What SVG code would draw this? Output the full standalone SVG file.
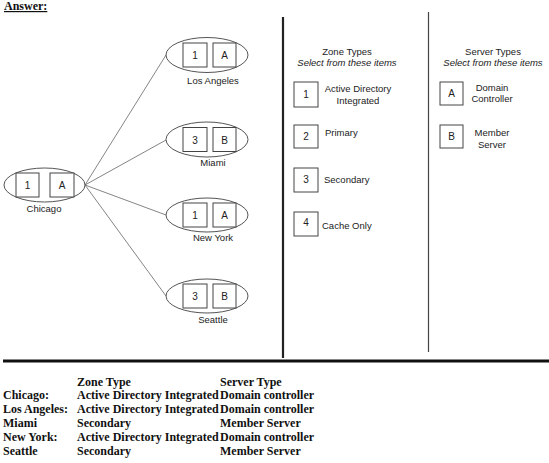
<svg xmlns="http://www.w3.org/2000/svg" width="549" height="463" viewBox="0 0 549 463">
<style>
.bg{fill:#fff}
.ell{fill:none;stroke:#555;stroke-width:1}
.box{fill:#fff;stroke:#444;stroke-width:1}
.bt{font-family:"Liberation Sans",Arial,sans-serif;font-size:10px;fill:#222;text-anchor:middle}
.lbl{font-family:"Liberation Sans",Arial,sans-serif;font-size:9.5px;fill:#222;text-anchor:middle}
.lt{font-family:"Liberation Sans",Arial,sans-serif;font-size:9.5px;fill:#222}
.it{font-family:"Liberation Sans",Arial,sans-serif;font-size:9.5px;font-style:italic;fill:#222;text-anchor:middle}
.conn line{stroke:#666;stroke-width:0.8}
.tb{font-family:"Liberation Serif","Times New Roman",serif;font-size:12px;font-weight:bold;fill:#111}
</style>
<rect class="bg" x="0" y="0" width="549" height="463"/>
<text x="4" y="10" font-family="Liberation Serif, Times New Roman, serif" font-size="12" font-weight="bold" fill="#111" text-decoration="underline">Answer:</text>

<g id="connectors" class="conn">
<line x1="85" y1="185" x2="166" y2="55"/>
<line x1="85" y1="185" x2="166" y2="140"/>
<line x1="85" y1="185" x2="166" y2="215"/>
<line x1="85" y1="185" x2="166" y2="296"/>
</g>

<g id="chicago">
<ellipse class="ell" cx="44.5" cy="185" rx="40.5" ry="17"/>
<rect class="box" x="16" y="173" width="23" height="24"/>
<text class="bt" x="27.5" y="189">1</text>
<rect class="box" x="50" y="173" width="24" height="24"/>
<text class="bt" x="62" y="189">A</text>
<text class="lbl" x="44" y="212">Chicago</text>
</g>

<g id="los-angeles">
<ellipse class="ell" cx="207" cy="55" rx="41" ry="17.5"/>
<rect class="box" x="183" y="43" width="24" height="24"/>
<text class="bt" x="195" y="59">1</text>
<rect class="box" x="213" y="43" width="23" height="24"/>
<text class="bt" x="224.5" y="59">A</text>
<text class="lbl" x="213" y="84">Los Angeles</text>
</g>

<g id="miami">
<ellipse class="ell" cx="207" cy="139.5" rx="41" ry="17.5"/>
<rect class="box" x="183" y="127.5" width="24" height="24"/>
<text class="bt" x="195" y="143.5">3</text>
<rect class="box" x="213" y="127.5" width="23" height="24"/>
<text class="bt" x="224.5" y="143.5">B</text>
<text class="lbl" x="213" y="166">Miami</text>
</g>

<g id="new-york">
<ellipse class="ell" cx="207" cy="215" rx="41" ry="17"/>
<rect class="box" x="183" y="203" width="24" height="24"/>
<text class="bt" x="195" y="219">1</text>
<rect class="box" x="213" y="203" width="23" height="24"/>
<text class="bt" x="224.5" y="219">A</text>
<text class="lbl" x="213" y="241">New York</text>
</g>

<g id="seattle">
<ellipse class="ell" cx="207" cy="296" rx="41" ry="17"/>
<rect class="box" x="183" y="284" width="24" height="24"/>
<text class="bt" x="195" y="300">3</text>
<rect class="box" x="213" y="284" width="23" height="24"/>
<text class="bt" x="224.5" y="300">B</text>
<text class="lbl" x="213" y="323">Seattle</text>
</g>

<g id="dividers">
<line x1="283" y1="17" x2="283" y2="358" stroke="#222" stroke-width="2.2"/>
<line x1="428.5" y1="12" x2="428.5" y2="352" stroke="#444" stroke-width="1.2"/>
<line x1="3" y1="361" x2="549" y2="361" stroke="#111" stroke-width="3"/>
</g>

<g id="zone-types">
<text class="lbl" x="347" y="55">Zone Types</text>
<text class="it" x="347" y="65.5">Select from these items</text>
<rect class="box" x="294" y="82" width="24" height="25"/>
<text class="bt" x="306" y="98">1</text>
<text class="lbl" x="358" y="92">Active Directory</text>
<text class="lbl" x="358" y="103.5">Integrated</text>
<rect class="box" x="294" y="125" width="24" height="23"/>
<text class="bt" x="306" y="140">2</text>
<text class="lt" x="325" y="136">Primary</text>
<rect class="box" x="294" y="168" width="24" height="24"/>
<text class="bt" x="306" y="183">3</text>
<text class="lt" x="324" y="182.5">Secondary</text>
<rect class="box" x="294" y="212" width="24" height="24"/>
<text class="bt" x="306" y="226">4</text>
<text class="lt" x="322" y="228.5">Cache Only</text>
</g>

<g id="server-types">
<text class="lbl" x="493" y="55">Server Types</text>
<text class="it" x="493" y="65.5">Select from these items</text>
<rect class="box" x="440" y="82" width="23" height="23"/>
<text class="bt" x="451.5" y="97">A</text>
<text class="lbl" x="492" y="91">Domain</text>
<text class="lbl" x="492" y="101.5">Controller</text>
<rect class="box" x="440" y="125" width="23" height="23"/>
<text class="bt" x="451.5" y="140">B</text>
<text class="lbl" x="492" y="136">Member</text>
<text class="lbl" x="492" y="148">Server</text>
</g>

<g id="answer-table">
<text class="tb" x="77" y="386">Zone Type</text>
<text class="tb" x="220" y="386">Server Type</text>
<text class="tb" x="3" y="399">Chicago:</text>
<text class="tb" x="77" y="399">Active Directory Integrated</text>
<text class="tb" x="220" y="399">Domain controller</text>
<text class="tb" x="3" y="413">Los Angeles:</text>
<text class="tb" x="77" y="413">Active Directory Integrated</text>
<text class="tb" x="220" y="413">Domain controller</text>
<text class="tb" x="3" y="427">Miami</text>
<text class="tb" x="77" y="427">Secondary</text>
<text class="tb" x="220" y="427">Member Server</text>
<text class="tb" x="3" y="441">New York:</text>
<text class="tb" x="77" y="441">Active Directory Integrated</text>
<text class="tb" x="220" y="441">Domain controller</text>
<text class="tb" x="3" y="455">Seattle</text>
<text class="tb" x="77" y="455">Secondary</text>
<text class="tb" x="220" y="455">Member Server</text>
</g>
</svg>
